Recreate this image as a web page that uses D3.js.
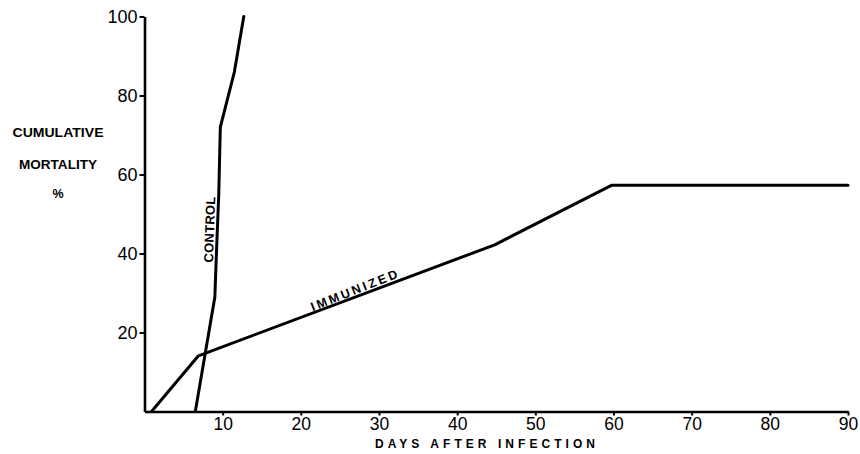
<!DOCTYPE html>
<html>
<head>
<meta charset="utf-8">
<script src="https://cdn.jsdelivr.net/npm/d3@7/dist/d3.min.js"></script>
<style>
  html, body { margin: 0; padding: 0; background: #fff; }
  svg { display: block; }
  text { fill: #000; }
</style>
</head>
<body>
<svg id="chart" width="860" height="454"></svg>
<script>
// ---- data ----
const xTickValues = [10, 20, 30, 40, 50, 60, 70, 80, 90];
const yTickValues = [20, 40, 60, 80, 100];

const controlDays      = [6.5, 9.0, 9.2, 9.5, 9.7, 11.5, 12.7];
const controlMortality = [0,   29,  40,  55,  72,  86,   100];

const immunizedDays      = [0.9, 6.9, 44.8, 59.8, 90];
const immunizedMortality = [0,   14.1, 42.2, 57.3, 57.3];

const yTitleLines = ["CUMULATIVE", "MORTALITY", "%"];
const xTitle = "DAYS AFTER INFECTION";

// ---- layout ----
const svg = d3.select("#chart");
const x = d3.scaleLinear().domain([0, 90]).range([144.5, 848]);
const y = d3.scaleLinear().domain([0, 100]).range([411.5, 16.5]);

const font = "'Liberation Sans', Arial, Helvetica, sans-serif";

// axes
const xAxis = d3.axisBottom(x).tickValues(xTickValues).tickSize(4).tickSizeOuter(0).tickPadding(2);
const yAxis = d3.axisLeft(y).tickValues(yTickValues).tickSize(5).tickSizeOuter(0).tickPadding(2);

const gx = svg.append("g").attr("transform", `translate(0,${y(0)})`).call(xAxis);
const gy = svg.append("g").attr("transform", `translate(${x(0)},0)`).call(yAxis);

[gx, gy].forEach(g => {
  g.select(".domain").attr("stroke", "#000").attr("stroke-width", 2.6);
  g.selectAll(".tick line").attr("stroke", "#000").attr("stroke-width", 2);
  g.selectAll(".tick text")
    .attr("font-family", font)
    .attr("font-size", 18)
    .attr("fill", "#000");
});
gx.selectAll(".tick text").attr("font-size", 17.5).attr("dy", "0.74em");
gy.selectAll(".tick text").attr("dy", "0.36em");

// lines
const line = d3.line().x(d => x(d[0])).y(d => y(d[1]));
const controlPts = controlDays.map((d, i) => [d, controlMortality[i]]);
const immunizedPts = immunizedDays.map((d, i) => [d, immunizedMortality[i]]);

[controlPts, immunizedPts].forEach(pts => {
  svg.append("path")
    .datum(pts)
    .attr("d", line)
    .attr("fill", "none")
    .attr("stroke", "#000")
    .attr("stroke-width", 3)
    .attr("stroke-linejoin", "round")
    .attr("stroke-linecap", "round");
});

// y title
const yTitleY = [137, 169, 198];
const yTitleLen = [91, 78, null];
yTitleLines.forEach((t, i) => {
  const tx = svg.append("text")
    .attr("x", 58)
    .attr("y", yTitleY[i])
    .attr("text-anchor", "middle")
    .attr("font-family", font)
    .attr("font-weight", "bold")
    .attr("font-size", 12.5)
    .text(t);
  if (yTitleLen[i]) tx.attr("textLength", yTitleLen[i]).attr("lengthAdjust", "spacingAndGlyphs");
});

// x title
svg.append("text")
  .attr("x", 375)
  .attr("y", 448)
  .attr("font-family", font)
  .attr("font-weight", "bold")
  .attr("font-size", 12)
  .attr("textLength", 220)
  .attr("lengthAdjust", "spacing")
  .text(xTitle);

// series labels
svg.append("text")
  .attr("transform", `translate(${x(8.9)},${y(46)}) rotate(-88)`)
  .attr("text-anchor", "middle")
  .attr("font-family", font)
  .attr("font-weight", "bold")
  .attr("font-size", 13)
  .attr("textLength", 66)
  .attr("lengthAdjust", "spacing")
  .text("CONTROL");

svg.append("text")
  .attr("transform", `translate(${x(27)},${y(28.9) - 3}) rotate(-21.5)`)
  .attr("text-anchor", "middle")
  .attr("font-family", font)
  .attr("font-weight", "bold")
  .attr("font-size", 12.5)
  .attr("textLength", 92)
  .attr("lengthAdjust", "spacing")
  .text("IMMUNIZED");
</script>
</body>
</html>
